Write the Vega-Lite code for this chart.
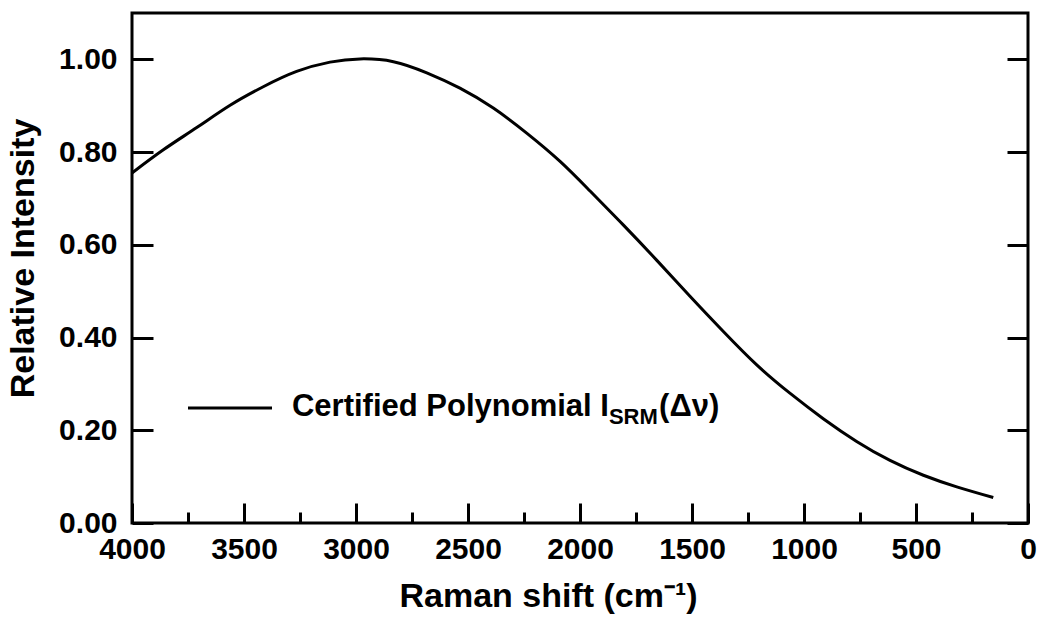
{
  "$schema": "https://vega.github.io/schema/vega-lite/v6.json",
  "autosize": {"type": "none"},
  "width": 896,
  "height": 510,
  "padding": {"left": 132, "top": 13, "right": 11, "bottom": 98},
  "background": "white",
  "config": {
    "font": "Liberation Sans",
    "view": {"stroke": "black", "strokeWidth": 3},
    "axis": {
      "grid": false,
      "domain": false,
      "tickColor": "black",
      "tickWidth": 3,
      "labelColor": "black",
      "labelFont": "Liberation Sans",
      "labelFontWeight": "bold",
      "labelFontSize": 30,
      "titleColor": "black",
      "titleFont": "Liberation Sans",
      "titleFontWeight": "bold",
      "titleFontSize": 34
    }
  },
  "datasets": {
    "curve": [
      {"shift": 4000, "intensity": 0.755},
      {"shift": 3860, "intensity": 0.805},
      {"shift": 3711, "intensity": 0.853},
      {"shift": 3562, "intensity": 0.901},
      {"shift": 3414, "intensity": 0.941},
      {"shift": 3265, "intensity": 0.974},
      {"shift": 3116, "intensity": 0.994},
      {"shift": 2982, "intensity": 1.001},
      {"shift": 2833, "intensity": 0.995},
      {"shift": 2684, "intensity": 0.971},
      {"shift": 2536, "intensity": 0.938},
      {"shift": 2387, "intensity": 0.895},
      {"shift": 2238, "intensity": 0.841},
      {"shift": 2089, "intensity": 0.780},
      {"shift": 1955, "intensity": 0.716},
      {"shift": 1807, "intensity": 0.643},
      {"shift": 1658, "intensity": 0.567},
      {"shift": 1509, "intensity": 0.489},
      {"shift": 1360, "intensity": 0.413},
      {"shift": 1211, "intensity": 0.341},
      {"shift": 1063, "intensity": 0.280},
      {"shift": 914, "intensity": 0.225},
      {"shift": 765, "intensity": 0.176},
      {"shift": 616, "intensity": 0.135},
      {"shift": 467, "intensity": 0.103},
      {"shift": 318, "intensity": 0.078},
      {"shift": 155, "intensity": 0.055}
    ],
    "legendLine": [{"x1": 3750, "x2": 3375, "y": 0.248}],
    "legendMain": [{"x": 3286, "y": 0.23, "label": "Certified Polynomial I"}],
    "legendSub": [{"x": 1871, "y": 0.23, "label": "SRM"}],
    "legendTail": [{"x": 1647, "y": 0.23, "label": "(Δν)"}]
  },
  "layer": [
    {
      "data": {"name": "curve"},
      "mark": {"type": "line", "color": "black", "strokeWidth": 3, "interpolate": "natural"},
      "encoding": {
        "x": {
          "field": "shift",
          "type": "quantitative",
          "scale": {"domain": [0, 4000], "reverse": true, "nice": false, "zero": false},
          "axis": {
            "orient": "bottom",
            "values": [4000, 3500, 3000, 2500, 2000, 1500, 1000, 500, 0],
            "format": "d",
            "tickSize": -20,
            "labelPadding": 31,
            "labelBaseline": "top",
            "labelFlush": false,
            "labelOverlap": false,
            "title": "Raman shift (cm⁻¹)",
            "titleX": 416,
            "titleY": 83,
            "titleAlign": "center",
            "titleBaseline": "alphabetic",
            "titleAnchor": null
          }
        },
        "y": {
          "field": "intensity",
          "type": "quantitative",
          "scale": {"domain": [0, 1.1], "nice": false, "zero": false},
          "axis": {
            "orient": "left",
            "values": [0, 0.2, 0.4, 0.6, 0.8, 1.0],
            "format": ".2f",
            "tickSize": -21,
            "labelPadding": 36,
            "labelBaseline": "middle",
            "labelFlush": false,
            "labelOverlap": false,
            "title": "Relative Intensity",
            "titleX": -99,
            "titleY": 245,
            "titleAngle": -90,
            "titleAlign": "center",
            "titleBaseline": "alphabetic"
          }
        }
      }
    },
    {
      "data": {"name": "legendLine"},
      "mark": {"type": "rule", "color": "black", "strokeWidth": 3},
      "encoding": {
        "x": {
          "field": "x1",
          "type": "quantitative",
          "axis": {
            "orient": "bottom",
            "values": [3750, 3250, 2750, 2250, 1750, 1250, 750, 250],
            "tickSize": -11,
            "labels": false,
            "title": null
          }
        },
        "x2": {"field": "x2"},
        "y": {
          "field": "y",
          "type": "quantitative",
          "axis": {
            "orient": "right",
            "values": [0, 0.2, 0.4, 0.6, 0.8, 1.0],
            "tickSize": -21,
            "labels": false,
            "title": null
          }
        }
      }
    },
    {
      "data": {"name": "legendMain"},
      "mark": {"type": "text", "align": "left", "baseline": "alphabetic", "fontSize": 31, "fontWeight": "bold", "color": "black", "font": "Liberation Sans"},
      "encoding": {
        "x": {"field": "x", "type": "quantitative", "axis": null},
        "y": {"field": "y", "type": "quantitative", "axis": null},
        "text": {"field": "label"}
      }
    },
    {
      "data": {"name": "legendSub"},
      "mark": {"type": "text", "align": "left", "baseline": "alphabetic", "dy": 8, "fontSize": 22, "fontWeight": "bold", "color": "black", "font": "Liberation Sans"},
      "encoding": {
        "x": {"field": "x", "type": "quantitative", "axis": null},
        "y": {"field": "y", "type": "quantitative", "axis": null},
        "text": {"field": "label"}
      }
    },
    {
      "data": {"name": "legendTail"},
      "mark": {"type": "text", "align": "left", "baseline": "alphabetic", "fontSize": 31, "fontWeight": "bold", "color": "black", "font": "Liberation Sans"},
      "encoding": {
        "x": {"field": "x", "type": "quantitative", "axis": null},
        "y": {"field": "y", "type": "quantitative", "axis": null},
        "text": {"field": "label"}
      }
    }
  ],
  "resolve": {"axis": {"x": "independent", "y": "independent"}}
}
